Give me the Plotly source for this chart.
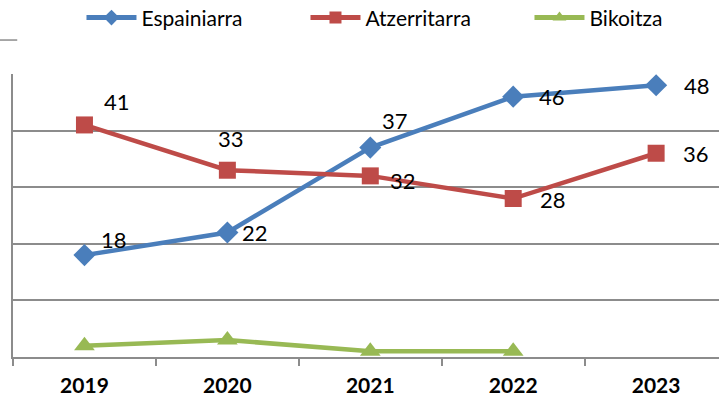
import plotly.graph_objects as go

# data
years = ["2019", "2020", "2021", "2022", "2023"]
espainiarra = [18, 22, 37, 46, 48]
atzerritarra = [41, 33, 32, 28, 36]
bikoitza = [2, 3, 1, 1]

# label offsets (px) per point: right, down
esp_off = [(30, -16), (28, 0), (25, -27), (39, 0), (41, 0)]
atz_off = [(33, -23), (4, -32), (33, 5), (40, 1), (40, 0)]

BLUE = "#4A7EBB"
RED = "#BE4B48"
GREEN = "#98B954"
GRID = "#8C8C8C"
FONT = "Lato"

fig = go.Figure()

fig.add_trace(go.Scatter(
    x=years, y=espainiarra, name="Espainiarra", mode="lines+markers",
    line=dict(color=BLUE, width=4.5),
    marker=dict(symbol="diamond", size=17, color=BLUE),
))
fig.add_trace(go.Scatter(
    x=years, y=atzerritarra, name="Atzerritarra", mode="lines+markers",
    line=dict(color=RED, width=4.5),
    marker=dict(symbol="square", size=17, color=RED),
))
fig.add_trace(go.Scatter(
    x=years[:len(bikoitza)], y=bikoitza, name="Bikoitza", mode="lines+markers",
    line=dict(color=GREEN, width=4.5),
    marker=dict(symbol="triangle-up", size=18, color=GREEN),
))

# data labels
annotations = []
for vals, offs in ((espainiarra, esp_off), (atzerritarra, atz_off)):
    for i, (v, (dx, dy)) in enumerate(zip(vals, offs)):
        annotations.append(dict(
            x=i, y=v, xref="x", yref="y", text=str(v), showarrow=False,
            xshift=dx, yshift=-dy,
            font=dict(family=FONT, size=22, color="black"),
        ))

fig.update_layout(
    width=719, height=401,
    margin=dict(l=13, r=0, t=74, b=44, autoexpand=False),
    paper_bgcolor="white", plot_bgcolor="white",
    font=dict(family=FONT, color="black"),
    showlegend=True,
    annotations=annotations,
    shapes=[dict(type="line", xref="paper", yref="paper",
                 x0=-0.02, x1=0.006, y0=1.12, y1=1.12,
                 line=dict(color=GRID, width=1.5))],
    legend=dict(orientation="h", x=0.097, xanchor="left", y=1.198, yanchor="middle",
                font=dict(family=FONT, size=21), itemsizing="constant",
                itemwidth=50, entrywidth=159, entrywidthmode="pixels",
                traceorder="normal"),
    xaxis=dict(
        type="category", range=[-0.5, 4.44],
        showline=True, linecolor=GRID, linewidth=1.5,
        ticks="outside", tickson="boundaries", ticklen=7, tickcolor=GRID, tickwidth=1.5,
        ticklabelstandoff=9,
        showgrid=False,
        tickfont=dict(family=FONT, size=21, color="black", weight="bold"),
    ),
    yaxis=dict(
        range=[0, 50], dtick=10, showticklabels=False,
        showgrid=True, gridcolor=GRID, gridwidth=1.5,
        showline=True, linecolor=GRID, linewidth=1.5,
        zeroline=False, ticks="",
    ),
)

fig.write_html("out.html", config={"displayModeBar": False},
               post_script="document.body.style.margin='0';")
